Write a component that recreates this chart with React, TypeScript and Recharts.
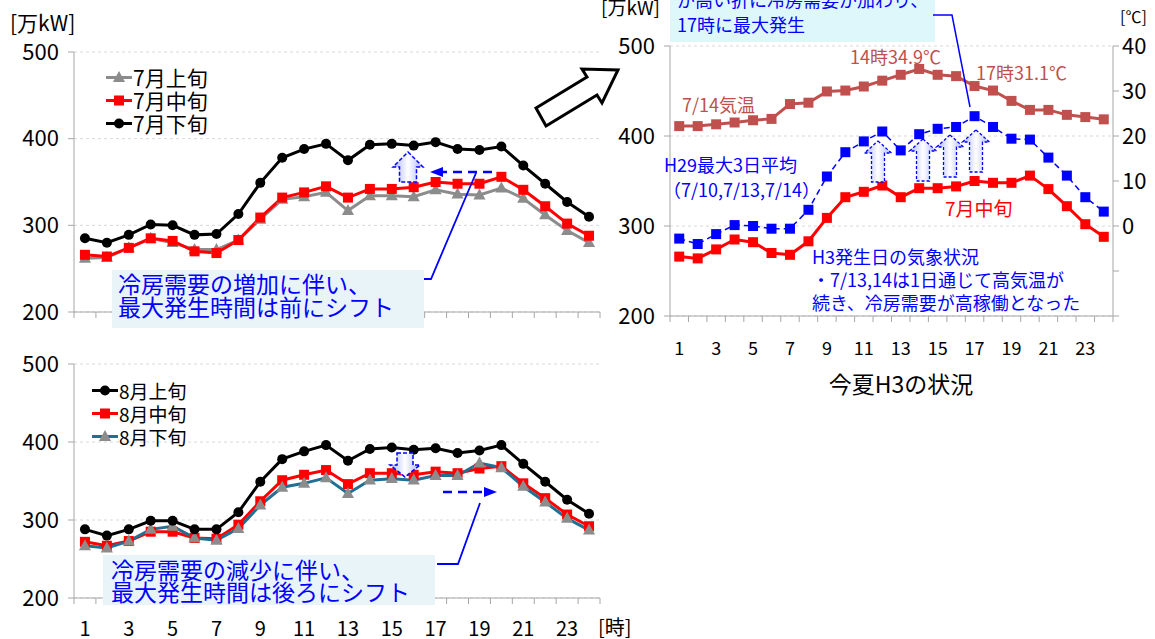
import React from 'react';
import { LineChart, Line, XAxis, YAxis, CartesianGrid } from 'recharts';

// ---------- data ----------
const hours = [1, 2, 3, 4, 5, 6, 7, 8, 9, 10, 11, 12, 13, 14, 15, 16, 17, 18, 19, 20, 21, 22, 23, 24];
const hourLabels = [1, 3, 5, 7, 9, 11, 13, 15, 17, 19, 21, 23];

const jul1 = [262, 263, 274, 285, 280, 272, 272, 283, 307, 330, 333, 338, 317, 334, 334, 333, 341, 336, 335, 343, 331, 312, 294, 280];
const jul2 = [266, 264, 274, 285, 282, 270, 268, 283, 309, 332, 338, 345, 332, 342, 342, 344, 350, 348, 348, 356, 341, 322, 302, 288];
const jul3 = [285, 280, 289, 301, 300, 289, 290, 313, 349, 378, 388, 394, 375, 393, 394, 392, 396, 388, 387, 391, 369, 348, 327, 310];

const aug1 = [288, 280, 288, 299, 299, 288, 288, 310, 349, 378, 388, 396, 376, 391, 393, 390, 392, 386, 389, 396, 372, 349, 326, 308];
const aug2 = [272, 267, 273, 285, 285, 277, 276, 294, 324, 351, 358, 364, 346, 360, 360, 358, 362, 360, 366, 369, 347, 328, 307, 292];
const aug3 = [267, 264, 273, 288, 292, 277, 274, 289, 319, 342, 347, 354, 334, 351, 353, 351, 357, 357, 373, 367, 343, 323, 302, 287];

const h29Max3 = [286, 280, 291, 301, 300, 297, 297, 318, 355, 382, 394, 405, 384, 402, 408, 410, 422, 410, 397, 396, 376, 356, 332, 316];
const temp714 = [22.2, 22.2, 22.6, 23.0, 23.5, 23.8, 27.1, 27.4, 29.9, 30.1, 31.0, 32.3, 33.6, 34.9, 33.6, 33.3, 31.1, 30.1, 27.8, 25.8, 25.8, 24.7, 24.2, 23.7];

const powerTicks = [200, 300, 400, 500];
const tempTicks = [-20, -10, 0, 10, 20, 30, 40];

// ---------- tables ----------
const julyData = hours.map((h, i) => ({ h, jul1: jul1[i], jul2: jul2[i], jul3: jul3[i] }));
const augData = hours.map((h, i) => ({ h, aug1: aug1[i], aug2: aug2[i], aug3: aug3[i] }));
const h3Data = hours.map((h, i) => ({ h, jul2: jul2[i], h29: h29Max3[i], temp: temp714[i] }));

const boundaryTicks = [0, ...hours].map((h) => h + 0.5);
const hourTicks = [...boundaryTicks, ...hourLabels].sort((a, b) => a - b);

// ---------- style ----------
const FONT = '"Noto Sans CJK JP", "Noto Sans", sans-serif';
const AXIS = '#a6a6a6';
const GRID = '#d9d9d9';
const BLUE = '#0000ff';
const RED = '#ff0000';
const TEMP = '#c0504d';
const TEAL = '#216f93';
const GRAY = '#8c8c8c';

type Marker = 'square' | 'circle' | 'triangle';

const markerShape = (shape: Marker, color: string, size: number, cx: number, cy: number, key?: any) => {
  if (shape === 'square') return <rect key={key} x={cx - size / 2} y={cy - size / 2} width={size} height={size} fill={color} />;
  if (shape === 'circle') return <circle key={key} cx={cx} cy={cy} r={size / 2} fill={color} />;
  return (
    <polygon
      key={key}
      points={`${cx},${cy - size * 0.6} ${cx - size * 0.55},${cy + size * 0.4} ${cx + size * 0.55},${cy + size * 0.4}`}
      fill={color}
    />
  );
};

const makeDot = (shape: Marker, color: string, size: number) => (p: any) => {
  if (p.cx == null || p.cy == null) return <g key={`e${p.index}`} />;
  return markerShape(shape, color, size, p.cx, p.cy, `d${p.index}`);
};

const julySeries = [
  { key: 'jul1', name: '7月上旬', line: GRAY, mark: GRAY, shape: 'triangle' as Marker, size: 11 },
  { key: 'jul2', name: '7月中旬', line: RED, mark: RED, shape: 'square' as Marker, size: 10 },
  { key: 'jul3', name: '7月下旬', line: '#000', mark: '#000', shape: 'circle' as Marker, size: 10 },
];
const augSeries = [
  { key: 'aug1', name: '8月上旬', line: '#000', mark: '#000', shape: 'circle' as Marker, size: 10 },
  { key: 'aug2', name: '8月中旬', line: RED, mark: RED, shape: 'square' as Marker, size: 10 },
  { key: 'aug3', name: '8月下旬', line: TEAL, mark: GRAY, shape: 'triangle' as Marker, size: 11 },
];

const LegendBox = ({ items, fontSize, rowH, left, top }: any) => (
  <div style={{ position: 'absolute', left, top, fontFamily: FONT, fontSize, lineHeight: `${rowH}px`, color: '#000' }}>
    {items.map((s: any) => (
      <div key={s.key} style={{ display: 'flex', alignItems: 'center', height: rowH }}>
        <svg width={26} height={rowH} style={{ marginRight: 1 }}>
          <line x1={0} x2={26} y1={rowH / 2} y2={rowH / 2} stroke={s.line} strokeWidth={3} />
          {markerShape(s.shape, s.mark, s.size, 13, rowH / 2)}
        </svg>
        <span>{s.name}</span>
      </div>
    ))}
  </div>
);

const HourTick = (props: any) => {
  const { x, y, payload, show, offset, fontSize } = props;
  const v = payload.value;
  if (!Number.isInteger(v)) return <line x1={x} x2={x} y1={y} y2={y + 6} stroke={AXIS} strokeWidth={1} />;
  if (!show) return <g />;
  return (
    <text x={x} y={y + offset} textAnchor="middle" dominantBaseline="central" fontSize={fontSize} fill="#000" fontFamily={FONT}>
      {v}
    </text>
  );
};

const hourAxis = (show: boolean, height: number, offset: number, fontSize: number) => (
  <XAxis
    dataKey="h"
    type="number"
    domain={[0.5, 24.5]}
    ticks={hourTicks}
    interval={0}
    height={height}
    tickSize={0}
    tickMargin={0}
    axisLine={{ stroke: AXIS }}
    tickLine={false}
    tick={(p: any) => <HourTick {...p} show={show} offset={offset} fontSize={fontSize} />}
  />
);

const powerAxis = (width: number, fontSize: number, id?: string) => (
  <YAxis
    yAxisId={id}
    type="number"
    domain={[200, 500]}
    ticks={powerTicks}
    width={width}
    tickSize={6}
    tickMargin={9}
    axisLine={{ stroke: AXIS }}
    tickLine={{ stroke: AXIS }}
    tick={{ fontSize, fill: '#000', fontFamily: FONT }}
  />
);

// ---------- annotation shapes ----------
const upArrow = (cx: number, tip: number, base: number, bottom: number, hw: number, sw: number) =>
  `${cx},${tip} ${cx + hw / 2},${base} ${cx + sw / 2},${base} ${cx + sw / 2},${bottom} ${cx - sw / 2},${bottom} ${cx - sw / 2},${base} ${cx - hw / 2},${base}`;
const downArrow = (cx: number, top: number, base: number, tip: number, hw: number, sw: number) =>
  `${cx - sw / 2},${top} ${cx + sw / 2},${top} ${cx + sw / 2},${base} ${cx + hw / 2},${base} ${cx},${tip} ${cx - hw / 2},${base} ${cx - sw / 2},${base}`;

export default function App() {
  return (
    <div style={{ position: 'absolute', left: 0, top: 0, width: 1155, height: 639, background: '#fff', overflow: 'hidden', fontFamily: FONT }}>
      {/* Panel A : July */}
      <div style={{ position: 'absolute', left: 0, top: 0 }}>
        <LineChart width={620} height={335} data={julyData} margin={{ top: 52, right: 20, bottom: 13, left: 0 }}>
          <CartesianGrid vertical={false} stroke={GRID} strokeDasharray="3 3" />
          {hourAxis(false, 10, 0, 20)}
          {powerAxis(74, 22)}
          {julySeries.map((s) => (
            <Line
              key={s.key}
              dataKey={s.key}
              name={s.name}
              stroke={s.line}
              strokeWidth={3}
              dot={makeDot(s.shape, s.mark, s.size)}
              activeDot={false}
              isAnimationActive={false}
            />
          ))}
        </LineChart>
      </div>
      <LegendBox items={julySeries} fontSize={21} rowH={23} left={106} top={66} />

      {/* Panel B : August */}
      <div style={{ position: 'absolute', left: 0, top: 340 }}>
        <LineChart width={620} height={299} data={augData} margin={{ top: 24, right: 20, bottom: 5, left: 0 }}>
          <CartesianGrid vertical={false} stroke={GRID} strokeDasharray="3 3" />
          {hourAxis(true, 36, 29, 20)}
          {powerAxis(74, 22)}
          {[augSeries[1], augSeries[2], augSeries[0]].map((s) => (
            <Line
              key={s.key}
              dataKey={s.key}
              name={s.name}
              stroke={s.line}
              strokeWidth={3}
              dot={makeDot(s.shape, s.mark, s.size)}
              activeDot={false}
              isAnimationActive={false}
            />
          ))}
        </LineChart>
      </div>
      <LegendBox items={augSeries} fontSize={19} rowH={23} left={92} top={379} />

      {/* Panel C : H3 this summer */}
      <div style={{ position: 'absolute', left: 560, top: 0 }}>
        <LineChart width={595} height={400} data={h3Data} margin={{ top: 46, right: 0, bottom: 44, left: 0 }}>
          <CartesianGrid vertical={false} stroke={GRID} strokeDasharray="3 3" yAxisId="p" />
          {hourAxis(true, 40, 31, 18)}
          {powerAxis(110, 22, 'p')}
          <YAxis
            yAxisId="t"
            orientation="right"
            type="number"
            domain={[-20, 40]}
            ticks={tempTicks}
            width={42}
            tickSize={6}
            tickMargin={3}
            axisLine={{ stroke: AXIS }}
            tickLine={{ stroke: AXIS }}
            tickFormatter={(v: number) => (v < 0 ? '' : String(v))}
            tick={{ fontSize: 22, fill: '#000', fontFamily: FONT }}
          />
          <Line
            yAxisId="t"
            dataKey="temp"
            name="7/14気温"
            stroke={TEMP}
            strokeWidth={3}
            dot={makeDot('square', TEMP, 10)}
            activeDot={false}
            isAnimationActive={false}
          />
          <Line
            yAxisId="p"
            dataKey="h29"
            name="H29最大3日平均"
            stroke={BLUE}
            strokeWidth={1.5}
            strokeDasharray="6 4"
            dot={makeDot('square', BLUE, 10)}
            activeDot={false}
            isAnimationActive={false}
          />
          <Line
            yAxisId="p"
            dataKey="jul2"
            name="7月中旬"
            stroke={RED}
            strokeWidth={3}
            dot={makeDot('square', RED, 10)}
            activeDot={false}
            isAnimationActive={false}
          />
        </LineChart>
      </div>

      {/* Annotations overlay */}
      <svg width={1155} height={639} style={{ position: 'absolute', left: 0, top: 0, pointerEvents: 'none' }} fontFamily={FONT}>
        <defs>
          <linearGradient id="arrowFill" x1="0" x2="1" y1="0" y2="0">
            <stop offset="0" stopColor="#aab4ff" />
            <stop offset="0.5" stopColor="#ffffff" />
            <stop offset="1" stopColor="#aab4ff" />
          </linearGradient>
        </defs>

        {/* unit labels */}
        <text x={10} y={22} fontSize={21} dominantBaseline="central" fill="#000">[万kW]</text>
        <text x={598} y={626} fontSize={20} dominantBaseline="central" fill="#000">[時]</text>
        <text x={601} y={6} fontSize={19} dominantBaseline="central" fill="#000">[万kW]</text>
        <text x={1120} y={16} fontSize={16} dominantBaseline="central" fill="#000">[℃]</text>

        {/* Panel A annotations */}
        <polygon points={upArrow(408, 152, 167, 182, 30, 17)} fill="url(#arrowFill)" stroke={BLUE} strokeWidth={1.5} strokeDasharray="4 2" />
        <line x1={492} x2={441} y1={172} y2={172} stroke={BLUE} strokeWidth={2.5} strokeDasharray="9 6" />
        <polygon points="430,172 443,167 443,177" fill={BLUE} />
        <polyline points="414,279 431,279 476,173" fill="none" stroke={BLUE} strokeWidth={1.8} />
        <rect x={112} y={270} width={312} height={58} fill="#e9f4f8" />
        <text fontSize={23} fill={BLUE}>
          <tspan x={118} y={283} dominantBaseline="central">冷房需要の増加に伴い、</tspan>
          <tspan x={118} y={306} dominantBaseline="central">最大発生時間は前にシフト</tspan>
        </text>

        {/* Panel B annotations */}
        <polygon points={downArrow(405, 453, 465, 477, 30, 16)} fill="url(#arrowFill)" stroke={BLUE} strokeWidth={1.5} strokeDasharray="4 2" />
        <line x1={443} x2={486} y1={492} y2={492} stroke={BLUE} strokeWidth={2.5} strokeDasharray="9 6" />
        <polygon points="497,492 484,487 484,497" fill={BLUE} />
        <polyline points="437,564 458,564 480,503" fill="none" stroke={BLUE} strokeWidth={1.8} />
        <rect x={103} y={555} width={332} height={50} fill="#e9f4f8" />
        <text fontSize={23} fill={BLUE}>
          <tspan x={111} y={569} dominantBaseline="central">冷房需要の減少に伴い、</tspan>
          <tspan x={111} y={591} dominantBaseline="central">最大発生時間は後ろにシフト</tspan>
        </text>

        {/* Big hollow arrow between panels */}
        <polygon points="546,126 597,95 602,103 618,70 582,69 587,77 536,108" fill="#fff" stroke="#000" strokeWidth={3} strokeLinejoin="miter" />

        {/* Panel C annotations */}
        <polygon points={upArrow(878, 141, 153, 182, 27, 13)} fill="url(#arrowFill)" stroke={BLUE} strokeWidth={1.3} strokeDasharray="3 2" />
        <polygon points={upArrow(923, 139, 151, 181, 27, 13)} fill="url(#arrowFill)" stroke={BLUE} strokeWidth={1.3} strokeDasharray="3 2" />
        <polygon points={upArrow(950, 135, 147, 177, 27, 13)} fill="url(#arrowFill)" stroke={BLUE} strokeWidth={1.3} strokeDasharray="3 2" />
        <polygon points={upArrow(976, 130, 142, 172, 27, 13)} fill="url(#arrowFill)" stroke={BLUE} strokeWidth={1.3} strokeDasharray="3 2" />
        <rect x={670} y={0} width={265} height={42} fill="#ddf7fb" />
        <polyline points="933,15 952,15 970,107" fill="none" stroke={BLUE} strokeWidth={1.5} />
        <text fontSize={18} fill={BLUE}>
          <tspan x={677} y={-1} dominantBaseline="central">が高い折に冷房需要が加わり、</tspan>
          <tspan x={677} y={24} dominantBaseline="central">17時に最大発生</tspan>
        </text>

        <text x={850} y={56} fontSize={18} fill={TEMP} dominantBaseline="central">14時34.9℃</text>
        <text x={976} y={72} fontSize={18} fill={TEMP} dominantBaseline="central">17時31.1℃</text>
        <text x={682} y={104} fontSize={18} fill={TEMP} dominantBaseline="central">7/14気温</text>
        <text x={664} y={164} fontSize={18} fill={BLUE} dominantBaseline="central">H29最大3日平均</text>
        <text x={663} y={189} fontSize={18} fill={BLUE} dominantBaseline="central">（7/10,7/13,7/14）</text>
        <text x={945} y={207} fontSize={19} fill={RED} dominantBaseline="central">7月中旬</text>
        <text fontSize={18} fill={BLUE}>
          <tspan x={812} y={256} dominantBaseline="central">H3発生日の気象状況</tspan>
          <tspan x={812} y={279} dominantBaseline="central">・7/13,14は1日通じて高気温が</tspan>
          <tspan x={812} y={302} dominantBaseline="central">続き、冷房需要が高稼働となった</tspan>
        </text>
        <text x={901} y={383} fontSize={23} fill="#000" textAnchor="middle" dominantBaseline="central">今夏H3の状況</text>
      </svg>
    </div>
  );
}
